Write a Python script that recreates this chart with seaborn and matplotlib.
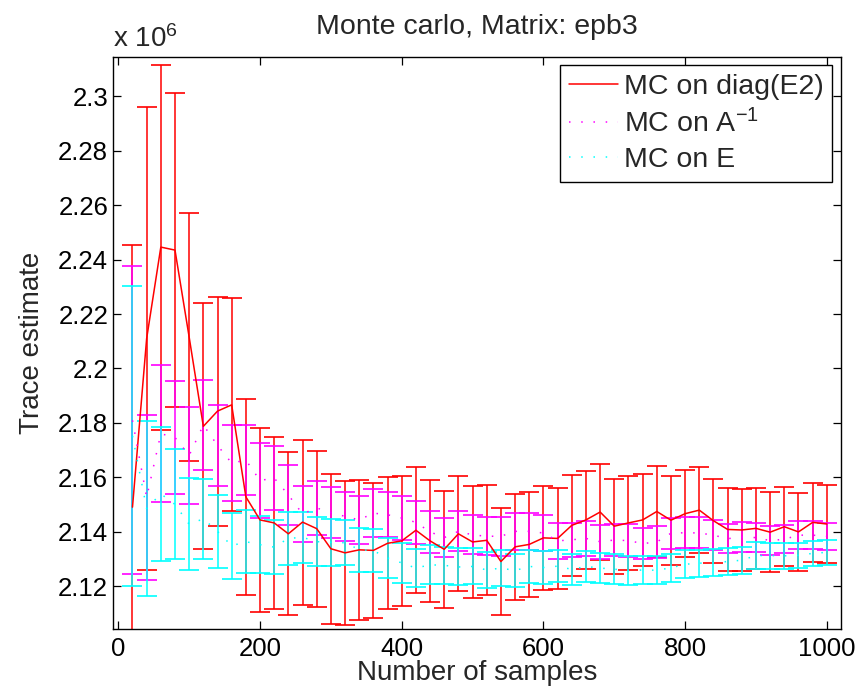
import pandas as pd
import matplotlib
matplotlib.use("Agg")
import matplotlib.pyplot as plt
import seaborn as sns

# ---- data (values in units of 1e6) ----
samples = [20, 40, 60, 80, 100, 120, 140, 160, 180, 200,
           220, 240, 260, 280, 300, 320, 340, 360, 380, 400,
           420, 440, 460, 480, 500, 520, 540, 560, 580, 600,
           620, 640, 660, 680, 700, 720, 740, 760, 780, 800,
           820, 840, 860, 880, 900, 920, 940, 960, 980, 1000]

diag_mean = [2.1490, 2.2110, 2.2446, 2.2435, 2.2115, 2.1787, 2.1843, 2.1866, 2.1528, 2.1443,
             2.1432, 2.1392, 2.1435, 2.1411, 2.1337, 2.1322, 2.1333, 2.1331, 2.1357, 2.1366,
             2.1405, 2.1366, 2.1335, 2.1392, 2.1362, 2.1368, 2.1290, 2.1344, 2.1353, 2.1377,
             2.1375, 2.1423, 2.1443, 2.1472, 2.1420, 2.1432, 2.1443, 2.1474, 2.1442, 2.1466,
             2.1479, 2.1440, 2.1408, 2.1406, 2.1412, 2.1398, 2.1418, 2.1399, 2.1434, 2.1428]
diag_err = [0.0963, 0.0850, 0.0671, 0.0576, 0.0457, 0.0452, 0.0421, 0.0392, 0.0360, 0.0338,
            0.0316, 0.0299, 0.0303, 0.0287, 0.0276, 0.0265, 0.0257, 0.0247, 0.0243, 0.0238,
            0.0232, 0.0224, 0.0216, 0.0211, 0.0207, 0.0202, 0.0197, 0.0195, 0.0192, 0.0191,
            0.0187, 0.0185, 0.0181, 0.0177, 0.0174, 0.0172, 0.0170, 0.0167, 0.0163, 0.0160,
            0.0159, 0.0155, 0.0153, 0.0150, 0.0149, 0.0147, 0.0146, 0.0144, 0.0144, 0.0143]

ainv_mean = [2.1809, 2.1526, 2.1760, 2.1746, 2.1680, 2.1792, 2.1717, 2.1652, 2.1663, 2.1588,
             2.1597, 2.1535, 2.1465, 2.1487, 2.1470, 2.1456, 2.1443, 2.1468, 2.1462, 2.1450,
             2.1434, 2.1399, 2.1378, 2.1401, 2.1388, 2.1383, 2.1383, 2.1401, 2.1401, 2.1395,
             2.1366, 2.1370, 2.1375, 2.1363, 2.1369, 2.1367, 2.1356, 2.1362, 2.1394, 2.1396,
             2.1395, 2.1387, 2.1374, 2.1380, 2.1378, 2.1367, 2.1372, 2.1387, 2.1387, 2.1383]
ainv_err = [0.0566, 0.0304, 0.0251, 0.0207, 0.0178, 0.0167, 0.0150, 0.0139, 0.0130, 0.0137,
            0.0117, 0.0109, 0.0104, 0.0098, 0.0094, 0.0091, 0.0088, 0.0087, 0.0082, 0.0082,
            0.0078, 0.0076, 0.0073, 0.0074, 0.0072, 0.0070, 0.0071, 0.0068, 0.0068, 0.0066,
            0.0065, 0.0063, 0.0063, 0.0062, 0.0060, 0.0060, 0.0058, 0.0058, 0.0057, 0.0057,
            0.0057, 0.0055, 0.0054, 0.0054, 0.0054, 0.0053, 0.0052, 0.0051, 0.0051, 0.0050]

e_mean = [2.1752, 2.1485, 2.1539, 2.1500, 2.1427, 2.1447, 2.1401, 2.1348, 2.1363, 2.1352,
          2.1343, 2.1375, 2.1379, 2.1363, 2.1361, 2.1359, 2.1334, 2.1330, 2.1303, 2.1285,
          2.1266, 2.1278, 2.1276, 2.1270, 2.1272, 2.1259, 2.1266, 2.1257, 2.1272, 2.1268,
          2.1273, 2.1261, 2.1272, 2.1266, 2.1262, 2.1256, 2.1259, 2.1258, 2.1267, 2.1280,
          2.1284, 2.1286, 2.1290, 2.1295, 2.1312, 2.1312, 2.1311, 2.1313, 2.1320, 2.1324]
e_err = [0.0552, 0.0322, 0.0246, 0.0202, 0.0169, 0.0146, 0.0134, 0.0121, 0.0115, 0.0105,
         0.0100, 0.0098, 0.0094, 0.0089, 0.0087, 0.0083, 0.0081, 0.0080, 0.0075, 0.0073,
         0.0071, 0.0071, 0.0068, 0.0068, 0.0066, 0.0066, 0.0066, 0.0062, 0.0062, 0.0061,
         0.0060, 0.0058, 0.0057, 0.0056, 0.0055, 0.0054, 0.0053, 0.0052, 0.0052, 0.0051,
         0.0050, 0.0050, 0.0050, 0.0049, 0.0049, 0.0048, 0.0047, 0.0047, 0.0047, 0.0047]

labels = ["MC on diag(E2)", "MC on A$^{-1}$", "MC on E"]
colors = ["#FF0000", "#FF00FF", "#00FFFF"]
scale = 1e6

# ---- long table for seaborn ----
rows = []
for lab, mean, err in zip(labels, [diag_mean, ainv_mean, e_mean], [diag_err, ainv_err, e_err]):
    for s, m, e in zip(samples, mean, err):
        rows.append({"samples": s, "estimate": m * scale, "err": e * scale, "method": lab})
df = pd.DataFrame(rows)

sns.set_style("ticks")
plt.rcParams["font.family"] = ["Liberation Sans", "DejaVu Sans"]
plt.rcParams["mathtext.fontset"] = "custom"
plt.rcParams["mathtext.rm"] = "Liberation Sans"
plt.rcParams["mathtext.it"] = "Liberation Sans:italic"

fig = plt.figure(figsize=(8.61, 6.93), dpi=100)
ax = fig.add_axes([113 / 861, 1 - 629 / 693, 728 / 861, 572.3 / 693])

# error bars, drawn series by series (red, magenta, cyan on top)
for lab, col in zip(labels, colors):
    sub = df[df["method"] == lab]
    ax.errorbar(sub["samples"], sub["estimate"], yerr=sub["err"], fmt="none",
                ecolor=col, elinewidth=1.1, capsize=7, capthick=1.2, label="_nolegend_")

sns.lineplot(data=df, x="samples", y="estimate", hue="method", style="method",
             hue_order=labels, style_order=labels, palette=colors,
             dashes={labels[0]: "", labels[1]: (1, 7), labels[2]: (1, 7)},
             linewidth=1.1, errorbar=None, ax=ax)

ax.set_xlim(-7.5, 1020)
ax.set_ylim(2.1042 * scale, 2.3146 * scale)
ax.set_xticks([0, 200, 400, 600, 800, 1000])
ax.set_yticks([v * scale for v in [2.12, 2.14, 2.16, 2.18, 2.2, 2.22, 2.24, 2.26, 2.28, 2.3]])
ax.yaxis.set_major_formatter(plt.FuncFormatter(lambda v, p: "%g" % round(v / scale, 4)))
ax.tick_params(direction="in", top=True, right=True, length=6, width=0.9,
               labelsize=18.5, colors="black")
ax.tick_params(axis="x", pad=6)
ax.tick_params(axis="y", pad=3.5)
for sp in ax.spines.values():
    sp.set_linewidth(1.0)
    sp.set_color("black")

ax.set_title("Monte carlo, Matrix: epb3", fontsize=20.5, pad=16)
ax.set_xlabel("Number of samples", fontsize=20)
ax.set_ylabel("Trace estimate", fontsize=20)
ax.xaxis.set_label_coords(0.5, -0.055)
ax.yaxis.set_label_coords(-0.093, 0.5)
fig.text(113 / 861, 1 - 47 / 693, "x 10$^6$", fontsize=20, va="baseline", ha="left")

handles, labs = ax.get_legend_handles_labels()
leg = ax.legend(handles, labs, loc="upper right", fontsize=20.5, frameon=True,
                fancybox=False, framealpha=1, edgecolor="black", borderaxespad=0.3,
                handlelength=1.75, handletextpad=0.2, labelspacing=0.32, borderpad=0.3)
leg.get_frame().set_linewidth(1.0)

fig.savefig("out.png", dpi=100)
